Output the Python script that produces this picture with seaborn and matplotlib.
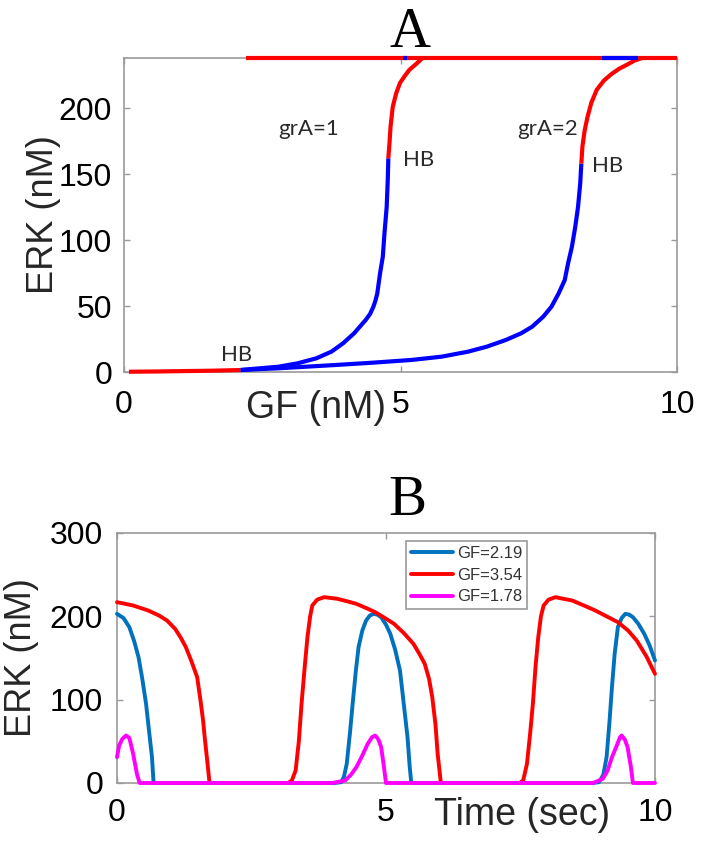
import matplotlib
matplotlib.use("Agg")
import matplotlib.pyplot as plt
import seaborn as sns

# ---------------- Panel A data (GF nM, ERK nM) ----------------
A_low_red_gf = [0.09, 0.6, 1.1, 1.6, 2.11]
A_low_red_erk = [0.2, 0.4, 0.7, 1.0, 1.5]

A_g1_blue_gf = [2.11, 2.45, 2.79, 3.14, 3.48, 3.75, 3.96, 4.16, 4.37, 4.45, 4.51, 4.55,
                4.58, 4.63, 4.68, 4.71, 4.75, 4.77, 4.78]
A_g1_blue_erk = [1.5, 2.8, 4.0, 6.6, 10.4, 15.4, 21.7, 29.3, 39.4, 44.0, 49.5, 54.5,
                 59.6, 74.7, 87.4, 105, 125, 146, 162]
A_g1_red_gf = [4.78, 4.80, 4.82, 4.86, 4.92, 4.99, 5.07, 5.16, 5.27, 5.40]
A_g1_red_erk = [162, 173, 186, 201, 211, 219, 224, 229, 233, 238]

A_g2_blue_gf = [2.11, 2.79, 3.82, 4.51, 5.19, 5.74, 6.22, 6.56, 6.90, 7.18, 7.38,
                7.58, 7.73, 7.86, 7.97, 8.03, 8.10, 8.16, 8.21, 8.25, 8.27]
A_g2_blue_erk = [1.5, 2.8, 5.3, 7.1, 9.1, 11.6, 15.4, 19.2, 24.2, 29.3, 34.3,
                 41.9, 49.5, 59.6, 69.7, 82.3, 95, 110, 125, 143, 158]
A_g2_red_gf = [8.27, 8.29, 8.33, 8.38, 8.45, 8.55, 8.68, 8.82, 8.96, 9.10, 9.23, 9.37]
A_g2_red_erk = [158, 171, 183, 193, 204, 214, 221, 226, 230, 233, 236, 238]

A_top_red_gf = [2.21, 10.0]
A_top_red_erk = [238, 238]
A_top_blue1_gf = [5.05, 5.12]
A_top_blue1_erk = [238, 238]
A_top_blue2_gf = [8.65, 9.30]
A_top_blue2_erk = [238, 238]

A_texts = ["grA=1", "grA=2", "HB", "HB", "HB"]
A_text_gf = [3.34, 7.66, 5.33, 8.75, 2.04]
A_text_erk = [184, 184, 161, 156, 13]

A_xticks = [0, 5, 10]
A_yticks = [0, 50, 100, 150, 200]

# ---------------- Panel B data (time s, ERK nM) ----------------
B_labels = ["GF=2.19", "GF=3.54", "GF=1.78"]

B_blue_t = [0, 0.12, 0.23, 0.32, 0.40, 0.47, 0.54, 0.60, 0.65, 0.68,
            4.05, 4.17, 4.22, 4.27, 4.33, 4.38, 4.44, 4.49, 4.56, 4.63, 4.70, 4.77,
            4.84, 4.91, 5.00, 5.08, 5.17, 5.26, 5.33, 5.40, 5.44, 5.47,
            8.85, 8.96, 9.04, 9.10, 9.15, 9.20, 9.25, 9.31, 9.38, 9.45, 9.52, 9.59,
            9.69, 9.80, 9.90, 10.0]
B_blue_erk = [203, 198, 187, 170, 151, 125, 95, 60, 31, 0,
              0, 1, 8, 23, 60, 95, 135, 163, 183, 195, 201, 203,
              202, 199, 190, 179, 160, 135, 95, 55, 20, 0,
              0, 1, 10, 31, 70, 115, 155, 187, 198, 203, 202, 199,
              191, 179, 165, 147]

B_red_t = [0, 0.30, 0.58, 0.78, 0.93, 1.08, 1.18, 1.28, 1.39, 1.49, 1.55, 1.60,
           1.63, 1.68, 1.72,
           3.18, 3.25, 3.32, 3.38, 3.43, 3.49, 3.54, 3.59, 3.63, 3.72, 3.85, 3.98,
           4.10, 4.28, 4.45, 4.63, 4.80, 4.98, 5.15, 5.33, 5.51, 5.62, 5.72, 5.80,
           5.86, 5.92, 5.96, 6.02,
           7.48, 7.55, 7.62, 7.68, 7.73, 7.78, 7.83, 7.88, 7.93, 8.02, 8.15, 8.30,
           8.46, 8.68, 8.89, 9.10, 9.31, 9.50, 9.66, 9.84, 10.0]
B_red_erk = [217, 213, 207, 201, 195, 185, 175, 163, 145, 127, 100, 75,
             55, 25, 0,
             0, 3, 15, 50, 95, 140, 175, 200, 213, 220, 223, 222,
             221, 218, 215, 210, 205, 198, 191, 180, 167, 155, 143, 125,
             103, 70, 35, 0,
             0, 3, 23, 60, 95, 140, 175, 200, 213, 220, 223, 221,
             219, 213, 207, 200, 193, 183, 171, 152, 131]

B_mag_t = [0, 0.04, 0.10, 0.17, 0.23, 0.30, 0.37, 0.42,
           4.00, 4.24, 4.35, 4.45, 4.56, 4.66, 4.74, 4.80, 4.86, 4.91, 4.96, 5.00,
           8.85, 9.03, 9.12, 9.20, 9.29, 9.35, 9.38, 9.44, 9.49, 9.55, 9.59, 10.0]
B_mag_erk = [31, 45, 53, 57, 54, 35, 11, 0,
             0, 3, 10, 19, 33, 47, 55, 57, 52, 43, 20, 0,
             0, 5, 15, 31, 45, 55, 57, 52, 43, 20, 0, 0]

B_xticks = [0, 5, 10]
B_yticks = [0, 100, 200, 300]

# ---------------- style ----------------
sns.set_theme(style="white")
plt.rcParams['font.family'] = ['Liberation Sans', 'DejaVu Sans']

RED = "#FF0000"
BLUE = "#0000FF"
SPINE = "#9a9a9a"

fig = plt.figure(figsize=(7.02, 8.44), dpi=100)
axA = fig.add_axes([124 / 702, 1 - 372 / 844, 553 / 702, 314 / 844])
axB = fig.add_axes([117 / 702, 1 - 783 / 844, 538 / 702, 250 / 844])

# ---------------- Panel A ----------------
segsA = [
    (A_low_red_gf, A_low_red_erk, RED),
    (A_g1_blue_gf, A_g1_blue_erk, BLUE),
    (A_g2_blue_gf, A_g2_blue_erk, BLUE),
    (A_g1_red_gf, A_g1_red_erk, RED),
    (A_g2_red_gf, A_g2_red_erk, RED),
    (A_top_red_gf, A_top_red_erk, RED),
    (A_top_blue1_gf, A_top_blue1_erk, BLUE),
    (A_top_blue2_gf, A_top_blue2_erk, BLUE),
]
for gx, gy, col in segsA:
    sns.lineplot(x=gx, y=gy, ax=axA, color=col, linewidth=3.0, sort=False,
                 estimator=None, clip_on=False, solid_capstyle='butt',
                 solid_joinstyle='round', zorder=3)

for s, gx, gy in zip(A_texts, A_text_gf, A_text_erk):
    axA.text(gx, gy, s, ha='center', va='center', fontsize=16,
             family=['Lato', 'DejaVu Sans'], color='#2a2a2a')

axA.set_xlim(0, 10)
axA.set_ylim(0, 238)
axA.set_xticks(A_xticks)
axA.set_yticks(A_yticks)
axA.set_title("A", x=0.517, pad=8, fontsize=41, family=['Liberation Serif'],
              color='black')
axA.set_xlabel("GF (nM)", fontsize=27)
axA.xaxis.set_label_coords(0.348, -0.115)
axA.xaxis.label.set_va('center')
axA.set_ylabel("ERK (nM)", fontsize=26, va='center')
axA.yaxis.set_label_coords(-0.146, 0.5)
axA.tick_params(axis='x', pad=13)
axA.tick_params(axis='y', pad=8.5)

# ---------------- Panel B ----------------
colsB = ["#0072BD", "#FF0000", "#FF00FF"]
for (tx, ty), col, lab in zip([(B_blue_t, B_blue_erk), (B_red_t, B_red_erk),
                               (B_mag_t, B_mag_erk)], colsB, B_labels):
    sns.lineplot(x=tx, y=ty, ax=axB, color=col, linewidth=2.8, sort=False,
                 estimator=None, clip_on=False, label=lab,
                 solid_joinstyle='round', zorder=3)

axB.set_xlim(0, 10)
axB.set_ylim(0, 300)
axB.set_xticks(B_xticks)
axB.set_yticks(B_yticks)
axB.set_title("B", x=0.54, pad=13, fontsize=41, family=['Liberation Serif'],
              color='black')
axB.set_xlabel("Time (sec)", fontsize=27)
axB.xaxis.set_label_coords(0.752, -0.128)
axB.xaxis.label.set_va('center')
axB.set_ylabel("ERK (nM)", fontsize=26, va='center')
axB.yaxis.set_label_coords(-0.177, 0.5)
axB.tick_params(axis='x', pad=10.5)
axB.tick_params(axis='y', pad=10)

leg = axB.legend(loc='upper left', bbox_to_anchor=(0.537, 0.968), borderaxespad=0,
                 fontsize=12, handlelength=2.5, handletextpad=0.25,
                 labelspacing=0.4, borderpad=0.3, frameon=True, fancybox=False,
                 edgecolor=SPINE, framealpha=1, labelcolor='#333333')
leg.get_frame().set_linewidth(1.2)
leg.set_zorder(5)

for ax in (axA, axB):
    for sp in ax.spines.values():
        sp.set_color(SPINE)
        sp.set_linewidth(1.2)
    ax.tick_params(direction='in', length=4, width=1, color=SPINE,
                   labelsize=23, labelcolor='black',
                   top=True, right=True, bottom=True, left=True,
                   labeltop=False, labelright=False)

fig.savefig("out.png", dpi=100)
